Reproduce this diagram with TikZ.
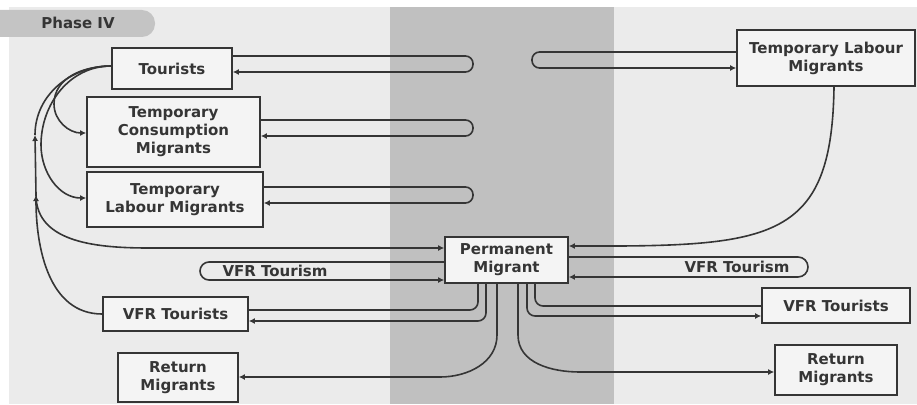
\documentclass[tikz,border=0pt]{standalone}
\usepackage{fontspec}
\setmainfont{DejaVu Sans}
\usepackage{tikz}
\usepackage{xcolor}
\usetikzlibrary{arrows.meta}

\definecolor{paper}{HTML}{EBEBEB}
\definecolor{band}{HTML}{C0C0C0}
\definecolor{ink}{HTML}{353535}
\definecolor{boxfill}{HTML}{F4F4F4}
\definecolor{pill}{HTML}{C4C4C4}

\begin{document}
\begin{tikzpicture}[x=1pt,y=-1pt,
  box/.style={draw=ink,fill=boxfill,line width=1.7pt,align=center,inner sep=0pt,
    font=\fontsize{15}{18}\selectfont\bfseries,text=ink},
  lbl/.style={inner sep=0pt,font=\fontsize{15}{18}\selectfont\bfseries,text=ink},
  flow/.style={draw=ink,line width=1.6pt},
  >={Latex[length=6pt,width=6pt]}]
\useasboundingbox (0,0) rectangle (917,404);
\fill[paper] (9,7) rectangle (917,404);
\fill[band] (390,7) rectangle (614,404);
\fill[pill,rounded corners=13pt] (-20,10) rectangle (155,37);
\node[lbl] (phase) at (78,23) {Phase IV};

\node[box,minimum width=120pt,minimum height=41pt] (tour) at (172,68.5) {Tourists};
\node[box,minimum width=173pt,minimum height=70pt] (tcm) at (173.5,132) {Temporary\\Consumption\\Migrants};
\node[box,minimum width=176pt,minimum height=55pt] (tlml) at (175,199.5) {Temporary\\Labour Migrants};
\node[box,minimum width=123pt,minimum height=46pt] (perm) at (506.5,260) {Permanent\\Migrant};
\node[box,minimum width=145pt,minimum height=34pt] (vfrl) at (175.5,314) {VFR Tourists};
\node[box,minimum width=120pt,minimum height=49pt] (retl) at (178,377.5) {Return\\Migrants};
\node[box,minimum width=178pt,minimum height=56pt] (tlmr) at (826,58) {Temporary Labour\\Migrants};
\node[box,minimum width=148pt,minimum height=35pt] (vfrr) at (836,305.5) {VFR Tourists};
\node[box,minimum width=122pt,minimum height=50pt] (retr) at (836,370) {Return\\Migrants};
\node[lbl] (vfrtl) at (275,271) {VFR Tourism};
\node[lbl] (vfrtr) at (737,267) {VFR Tourism};

\coordinate (j1) at (35,135);
\coordinate (j2) at (36,195);

\draw[flow,->,rounded corners=7.5pt] (tour.east |- 0,56) -- (473,56) -- (473,72) -- (tour.east |- 0,72);
\draw[flow,->,rounded corners=7.5pt] (tcm.east |- 0,120) -- (473,120) -- (473,136) -- (tcm.east |- 0,136);
\draw[flow,->,rounded corners=7.5pt] (tlml.east |- 0,187) -- (473,187) -- (473,203) -- (tlml.east |- 0,203);
\draw[flow,->,rounded corners=7.5pt] (tlmr.west |- 0,52) -- (532,52) -- (532,68) -- (tlmr.west |- 0,68);
\draw[flow,->,rounded corners=9pt] (perm.west |- 0,262) -- (200,262) -- (200,280) -- (perm.west |- 0,280);
\draw[flow,->,rounded corners=10pt] (perm.east |- 0,257) -- (808,257) -- (808,277) -- (perm.east |- 0,277);

\draw[flow,->] (tlmr.south -| 834,0) .. controls (832,230) and (780,245) .. (620,246) -- (perm.east |- 0,246);

\draw[flow,->] (tour.west |- 0,66) to[out=180,in=90] (54,104) to[out=-90,in=180] (tcm.west |- 0,133);
\draw[flow,->] (tour.west |- 0,66) to[out=180,in=90] (41,145) to[out=-90,in=180] (tlml.west |- 0,198);
\draw[flow] (j1) to[out=90,in=180] (tour.west |- 0,66);
\draw[flow,->] (j2) -- (j1);
\draw[flow,->] (vfrl.west) to[out=180,in=-90] (j2);
\draw[flow,->] (j2) to[out=-90,in=180] (150,248) -- (perm.west |- 0,248);

\draw[flow,rounded corners=8pt] (perm.south -| 478,0) -- (478,310) -- (vfrl.east |- 0,310);
\draw[flow,->,rounded corners=8pt] (perm.south -| 486,0) -- (486,321) -- (vfrl.east |- 0,321);
\draw[flow,rounded corners=8pt] (perm.south -| 535,0) -- (535,306) -- (vfrr.west |- 0,306);
\draw[flow,->,rounded corners=8pt] (perm.south -| 527,0) -- (527,316) -- (vfrr.west |- 0,316);
\draw[flow,->] (perm.south -| 497,0) -- (497,335) to[out=-90,in=0] (440,377) -- (retl.east |- 0,377);
\draw[flow,->] (perm.south -| 518,0) -- (518,335) to[out=-90,in=180] (580,372) -- (retr.west |- 0,372);
\end{tikzpicture}
\end{document}
